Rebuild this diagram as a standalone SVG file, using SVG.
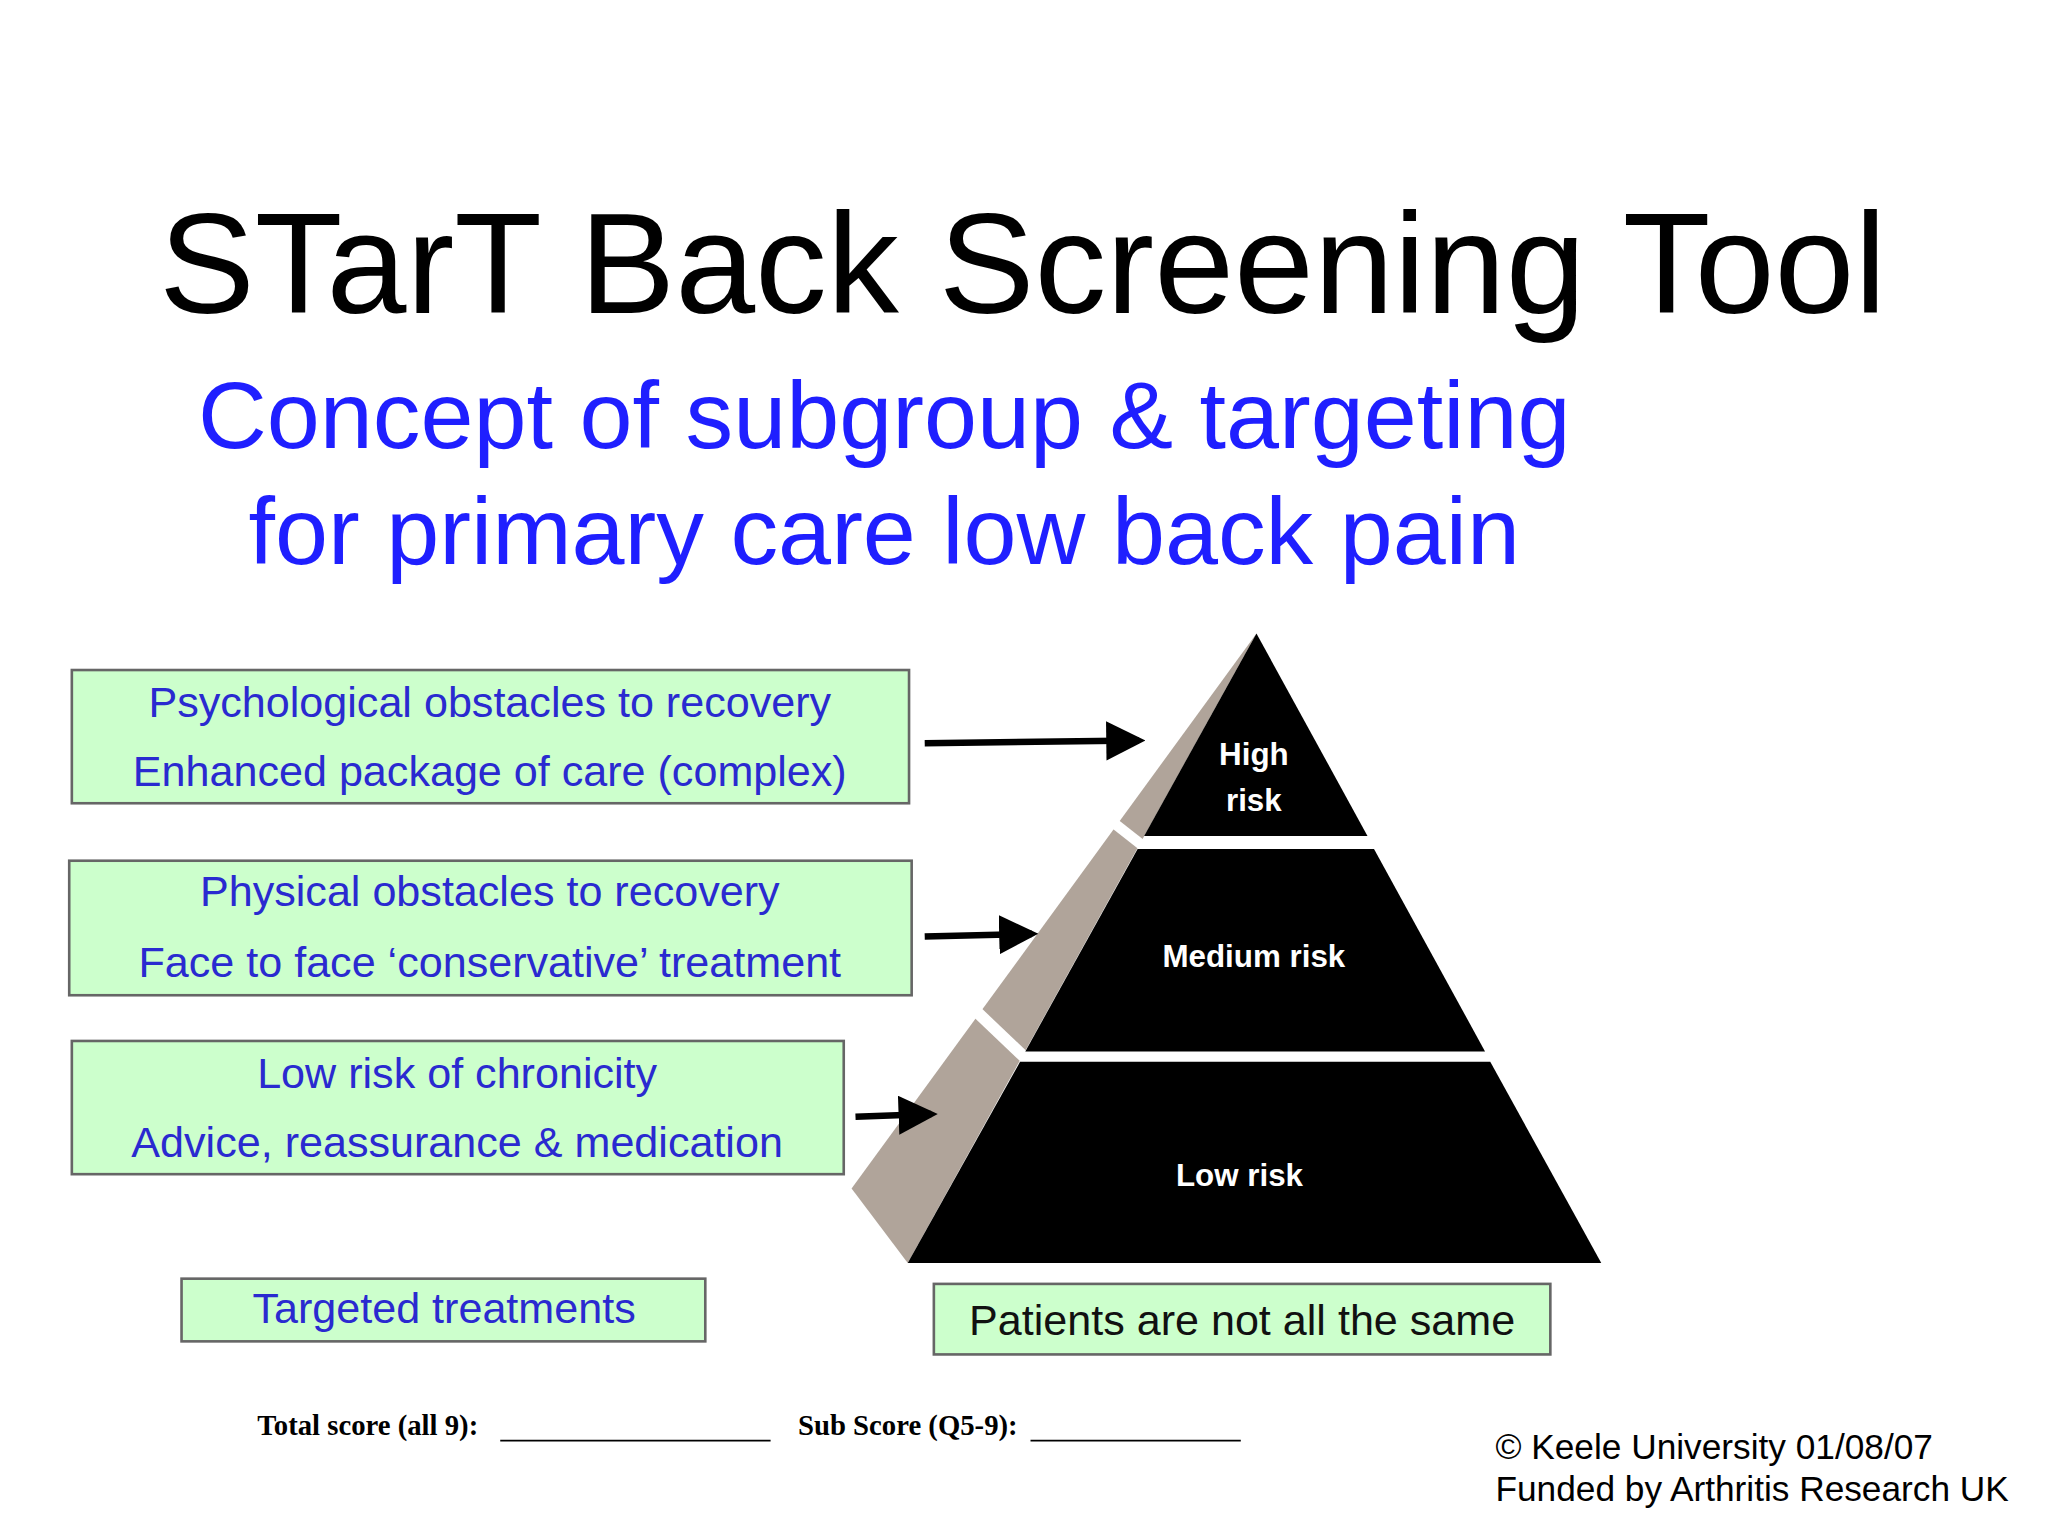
<svg xmlns="http://www.w3.org/2000/svg" width="2048" height="1536" viewBox="0 0 2048 1536">
<style>
.box{fill:#ccffcc;stroke:#666;stroke-width:2}
.bt{font-family:"Liberation Sans",Arial,sans-serif;font-size:33px;fill:#2a2ad0;text-anchor:middle}
.pt{font-family:"Liberation Sans",Arial,sans-serif;font-size:24px;font-weight:bold;fill:#fff;text-anchor:middle}
.ar{stroke:#000;stroke-width:5;fill:none;marker-end:url(#ah)}
.sc{font-family:"Liberation Serif","Times New Roman",serif;font-size:22px;font-weight:bold;fill:#000}
</style>
<defs><marker id="ah" markerWidth="6" markerHeight="6" refX="5" refY="3" orient="auto" markerUnits="strokeWidth"><path d="M0,0 L6,3 L0,6 Z" fill="#000"/></marker></defs>
<rect width="2048" height="1536" fill="#fff"/>
<g transform="scale(1.3061)">
<text x="783" y="240" font-family="Liberation Sans,Arial,sans-serif" font-size="110" text-anchor="middle">STarT Back Screening Tool</text>
<g font-family="Liberation Sans,Arial,sans-serif" font-size="73" fill="#1f1fff" text-anchor="middle">
<text x="677" y="343">Concept of subgroup &amp; targeting</text>
<text x="677" y="432">for primary care low back pain</text>
</g>
<g id="pyramid">
<polygon points="962,485 652,910 695,967" fill="#b0a49a"/>
<line x1="850" y1="628" x2="878" y2="650" stroke="#fff" stroke-width="8"/>
<line x1="745" y1="772" x2="787" y2="812" stroke="#fff" stroke-width="9"/>
<polygon points="962,485 876,640 1047,640" fill="#000"/>
<polygon points="871,650 1052,650 1137,805 785,805" fill="#000"/>
<polygon points="781,813 1141,813 1226,967 695,967" fill="#000"/>
<text class="pt" x="960" y="586">High</text>
<text class="pt" x="960" y="621">risk</text>
<text class="pt" x="960" y="740">Medium risk</text>
<text class="pt" x="949" y="908">Low risk</text>
</g>
<g id="box1"><rect class="box" x="55" y="513" width="641" height="102"/>
<text class="bt" x="375" y="549">Psychological obstacles to recovery</text>
<text class="bt" x="375" y="602">Enhanced package of care (complex)</text></g>
<g id="box2"><rect class="box" x="53" y="659" width="645" height="103"/>
<text class="bt" x="375" y="694">Physical obstacles to recovery</text>
<text class="bt" x="375" y="748">Face to face ‘conservative’ treatment</text></g>
<g id="box3"><rect class="box" x="55" y="797" width="591" height="102"/>
<text class="bt" x="350" y="833">Low risk of chronicity</text>
<text class="bt" x="350" y="886">Advice, reassurance &amp; medication</text></g>
<g id="box4"><rect class="box" x="139" y="979" width="401" height="48"/>
<text class="bt" x="340" y="1013">Targeted treatments</text></g>
<g id="box5"><rect class="box" x="715" y="983" width="472" height="54"/>
<text class="bt" x="951" y="1022" style="fill:#111">Patients are not all the same</text></g>
<g id="connectors">
<line class="ar" x1="708" y1="569" x2="872" y2="567"/>
<line class="ar" x1="708" y1="717" x2="790" y2="715"/>
<line class="ar" x1="655" y1="855" x2="713" y2="853"/>
</g>
<text class="sc" x="197" y="1099">Total score (all 9):</text>
<line x1="383" y1="1103" x2="590" y2="1103" stroke="#000" stroke-width="1.5"/>
<text class="sc" x="611" y="1099">Sub Score (Q5-9):</text>
<line x1="789" y1="1103" x2="950" y2="1103" stroke="#000" stroke-width="1.5"/>
<g font-family="Liberation Sans,Arial,sans-serif" font-size="27">
<text x="1145" y="1117">© Keele University 01/08/07</text>
<text x="1145" y="1149">Funded by Arthritis Research UK</text>
</g>
</g>
</svg>
